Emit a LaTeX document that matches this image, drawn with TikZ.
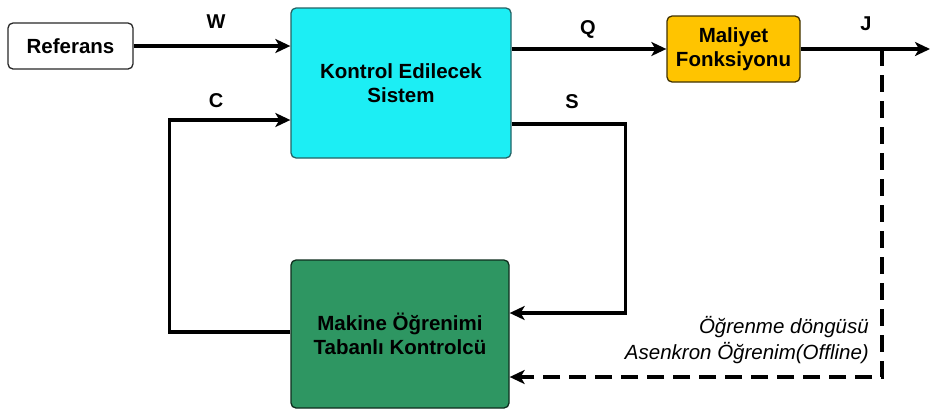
\documentclass[tikz,border=0pt]{standalone}
\usepackage{fontspec}
\setmainfont{Liberation Sans}
\usetikzlibrary{arrows.meta,positioning}
\definecolor{syscyan}{RGB}{28,238,244}
\definecolor{costorange}{RGB}{255,196,0}
\definecolor{ctrlgreen}{RGB}{46,150,98}
\definecolor{edgedark}{RGB}{40,40,40}
\tikzset{
  blk/.style={draw=edgedark, line width=1.3pt, rounded corners=5pt, align=center,
    font=\bfseries\fontsize{20.5}{23.5}\selectfont, inner sep=0pt},
  sig/.style={line width=3.3pt, -{Stealth[length=15pt,width=14pt,inset=4pt]}},
  dsig/.style={sig, dash pattern=on 17pt off 9pt},
  lbl/.style={font=\bfseries\fontsize{20}{23}\selectfont, inner sep=0pt},
  note/.style={font=\itshape\fontsize{20.5}{26}\selectfont, align=right, inner sep=0pt}
}
\begin{document}
\begin{tikzpicture}[x=1pt,y=-1pt]
\useasboundingbox (0,0) rectangle (932,413);
\node[blk, fill=white, minimum width=125pt, minimum height=46pt] (ref) at (70.5,46) {Referans};
\node[blk, fill=syscyan, draw=edgedark!70!syscyan, minimum width=220pt, minimum height=150pt] (sys) at (401,83) {Kontrol Edilecek\\Sistem};
\node[blk, fill=costorange, draw=black!75!costorange, minimum width=133pt, minimum height=66pt] (cost) at (733.5,49) {Maliyet\\Fonksiyonu};
\node[blk, fill=ctrlgreen, draw=black!70!ctrlgreen, minimum width=218pt, minimum height=148pt] (ctrl) at (400,334) {Makine Öğrenimi\\Tabanlı Kontrolcü};

\coordinate (jend) at (930,49);
\coordinate (jsplit) at (882,49);

% W
\draw[sig] (ref.east) -- (ref.east -| sys.west);
% Q
\draw[sig] (sys.east |- cost.west) -- (cost.west);
% J
\draw[sig] (cost.east) -- (jend);
% S
\draw[sig] ([yshift=-41pt]sys.east) -- ++(114,0) |- ([yshift=21pt]ctrl.east);
% C
\draw[sig] ([yshift=2pt]ctrl.west) -- ++(-121,0) |- ([yshift=-37pt]sys.west);
% learning loop
\draw[dsig] (jsplit) |- ([yshift=-43pt]ctrl.east);

\node[lbl] (lw) at (216,22) {W};
\node[lbl] (lc) at (216,101) {C};
\node[lbl] (lq) at (588,29) {Q};
\node[lbl] (ls) at (572,102) {S};
\node[lbl] (lj) at (866,24) {J};

\node[note, anchor=north east] (nt) at (869,316) {Öğrenme döngüsü\\Asenkron Öğrenim(Offline)};
\end{tikzpicture}
\end{document}
